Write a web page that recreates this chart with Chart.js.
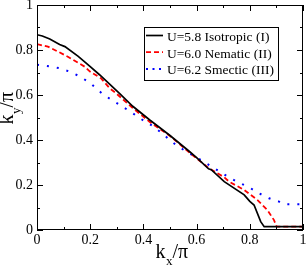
<!DOCTYPE html>
<html>
<head>
<meta charset="utf-8">
<script src="https://cdn.jsdelivr.net/npm/chart.js@4.4.1/dist/chart.umd.min.js"></script>
<style>
  html, body { margin: 0; padding: 0; background: #fff; }
  canvas { display: block; }
</style>
</head>
<body>
<canvas id="chart" width="307" height="269"></canvas>
<script>
// Fermi surface curves k_y(k_x)
const isoX = [0, 0.02, 0.048, 0.085, 0.105, 0.155, 0.198, 0.235, 0.31, 0.36, 0.424, 0.5, 0.572, 0.6, 0.645, 0.655, 0.704, 0.779, 0.8, 0.816, 0.841, 0.854, 1];
const isoY = [0.868, 0.862, 0.849, 0.824, 0.815, 0.772, 0.728, 0.69, 0.607, 0.55, 0.489, 0.42, 0.35, 0.322, 0.272, 0.268, 0.215, 0.156, 0.127, 0.111, 0.037, 0.015, 0.015];

const nemX = [0, 0.041, 0.079, 0.116, 0.179, 0.198, 0.241, 0.273, 0.298, 0.36, 0.423, 0.5, 0.572, 0.647, 0.704, 0.722, 0.779, 0.829, 0.866, 0.891, 0.901, 1];
const nemY = [0.826, 0.815, 0.793, 0.77, 0.726, 0.705, 0.674, 0.63, 0.607, 0.542, 0.481, 0.418, 0.345, 0.274, 0.234, 0.215, 0.178, 0.133, 0.089, 0.044, 0.015, 0.015];

const smeX = [0, 0.048, 0.085, 0.123, 0.16, 0.198, 0.248, 0.285, 0.322, 0.36, 0.397, 0.435, 0.472, 0.497, 0.529, 0.56, 0.616, 0.654, 0.691, 0.722, 0.76, 0.797, 0.835, 0.872, 0.91, 0.929, 1];
const smeY = [0.735, 0.727, 0.719, 0.704, 0.683, 0.655, 0.603, 0.575, 0.548, 0.519, 0.489, 0.462, 0.428, 0.402, 0.372, 0.35, 0.311, 0.284, 0.256, 0.234, 0.21, 0.19, 0.163, 0.141, 0.126, 0.114, 0.114];

const seriesLabels = ['U=5.8 Isotropic (I)', 'U=6.0 Nematic (II)', 'U=6.2 Smectic (III)'];
const majorTicks = [0, 0.2, 0.4, 0.6, 0.8, 1];
const minorTicks = [0.1, 0.3, 0.5, 0.7, 0.9];

const SERIF = '"Liberation Serif", "DejaVu Serif", serif';

function pts(xs, ys) {
    return xs.map((x, i) => ({ x: x, y: ys[i] }));
}

// frame, inward ticks on all sides, axis titles and the boxed legend
const framePlugin = {
    id: 'frame',
    afterDraw(chart) {
        const { ctx, chartArea: a, scales } = chart;
        ctx.save();
        ctx.strokeStyle = '#000';
        ctx.lineWidth = 1;
        ctx.strokeRect(a.left + 0.5, a.top + 0.5, a.right - a.left - 1, a.bottom - a.top - 1);

        ctx.beginPath();
        const marks = majorTicks.map(v => [v, 6]).concat(minorTicks.map(v => [v, 3]));
        marks.forEach(([v, len]) => {
            const px = Math.round(scales.x.getPixelForValue(v)) + 0.5;
            ctx.moveTo(px, a.bottom); ctx.lineTo(px, a.bottom - len);
            ctx.moveTo(px, a.top); ctx.lineTo(px, a.top + len);
            const py = Math.round(scales.y.getPixelForValue(v)) + 0.5;
            ctx.moveTo(a.left, py); ctx.lineTo(a.left + len, py);
            ctx.moveTo(a.right, py); ctx.lineTo(a.right - len, py);
        });
        ctx.stroke();

        // axis titles: k_x/π and k_y/π
        ctx.fillStyle = '#000';
        ctx.textBaseline = 'alphabetic';
        const drawTitle = (sub) => {
            ctx.font = '20px ' + SERIF;
            const wk = ctx.measureText('k').width;
            const wr = ctx.measureText('/π').width;
            ctx.font = '13px ' + SERIF;
            const ws = ctx.measureText(sub).width;
            let x0 = -(wk + ws + wr) / 2;
            ctx.font = '20px ' + SERIF;
            ctx.fillText('k', x0, 0);
            ctx.font = '13px ' + SERIF;
            ctx.fillText(sub, x0 + wk + 0.5, 7);
            ctx.font = '20px ' + SERIF;
            ctx.fillText('/π', x0 + wk + ws + 0.5, 0);
        };
        ctx.save();
        ctx.translate((a.left + a.right) / 2 + 1.5, chart.height - 11);
        drawTitle('x');
        ctx.restore();
        ctx.save();
        ctx.translate(13, 108.5);
        ctx.rotate(-Math.PI / 2);
        drawTitle('y');
        ctx.restore();

        // legend
        const bx = 144.5, by = 27.5, bw = 134, bh = 53;
        ctx.fillStyle = '#fff';
        ctx.fillRect(bx, by, bw, bh);
        ctx.strokeStyle = '#000';
        ctx.strokeRect(bx, by, bw, bh);
        const legendDash = [[], [5, 3], [2, 4.5]];
        chart.data.datasets.forEach((ds, i) => {
            const yy = 35.5 + i * 16.7;
            ctx.save();
            ctx.strokeStyle = ds.borderColor;
            ctx.lineWidth = ds.borderWidth;
            ctx.setLineDash(legendDash[i]);
            ctx.beginPath();
            ctx.moveTo(146, yy);
            ctx.lineTo(163, yy);
            ctx.stroke();
            ctx.restore();
            ctx.fillStyle = '#000';
            ctx.font = '13.5px ' + SERIF;
            ctx.fillText(ds.label, 167, yy + 5.5);
        });
        ctx.restore();
    }
};

const tickFont = { family: SERIF, size: 14 };
const fmt = v => String(Number(v.toFixed(1)));

new Chart(document.getElementById('chart'), {
    type: 'line',
    data: {
        datasets: [
            { label: seriesLabels[0], data: pts(isoX, isoY), borderColor: '#000000', borderWidth: 1.7, pointRadius: 0, tension: 0, fill: false },
            { label: seriesLabels[1], data: pts(nemX, nemY), borderColor: '#ff0000', borderWidth: 1.8, borderDash: [5, 3], pointRadius: 0, tension: 0, fill: false },
            { label: seriesLabels[2], data: pts(smeX, smeY), borderColor: '#0000ff', borderWidth: 2, borderDash: [2, 8], pointRadius: 0, tension: 0, fill: false }
        ]
    },
    options: {
        responsive: false,
        animation: false,
        events: [],
        layout: { padding: { top: 5, right: 4, left: 0, bottom: 0 } },
        plugins: { legend: { display: false }, tooltip: { enabled: false } },
        scales: {
            x: {
                type: 'linear', min: 0, max: 1,
                afterBuildTicks: s => { s.ticks = majorTicks.map(v => ({ value: v })); },
                afterFit: s => { s.height = 39; s.paddingLeft = 0; s.paddingRight = 0; },
                grid: { display: false, drawTicks: false },
                border: { display: false },
                ticks: { font: tickFont, color: '#000', padding: 2, maxRotation: 0, callback: fmt }
            },
            y: {
                type: 'linear', min: 0, max: 1,
                afterBuildTicks: s => { s.ticks = majorTicks.map(v => ({ value: v })); },
                afterFit: s => { s.width = 37; s.paddingTop = 0; s.paddingBottom = 0; },
                grid: { display: false, drawTicks: false },
                border: { display: false },
                ticks: { font: tickFont, color: '#000', padding: 4, callback: fmt }
            }
        }
    },
    plugins: [framePlugin]
});
</script>
</body>
</html>
